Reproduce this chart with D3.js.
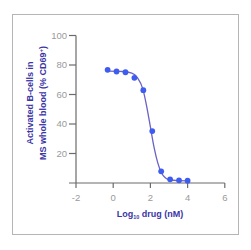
<!DOCTYPE html>
<html>
<head>
<meta charset="utf-8">
<script src="https://cdn.jsdelivr.net/npm/d3@7"></script>
<style>
  body { margin: 0; background: #fff; }
  svg { display: block; font-family: "Liberation Sans", Arial, sans-serif; }
</style>
</head>
<body>
<div id="chart"></div>
<script>
// measured points (log10 nM, % CD69+)
var doseX = [-0.3, 0.18, 0.66, 1.14, 1.62, 2.1, 2.58, 3.06, 3.54, 4.0];
var activeY = [76.7, 75.6, 75.1, 71.3, 62.9, 35.2, 7.9, 2.5, 1.8, 1.6];

// fitted curve
var fitX = [-0.3, 0.5, 1.0, 1.3, 1.6, 1.8, 2.0, 2.2, 2.4, 2.6, 2.8, 3.0, 3.5, 4.0];
var fitY = [75.8, 75.6, 74.5, 71.5, 63.5, 52, 38, 24, 13.5, 6.8, 3.5, 2.2, 1.6, 1.5];

var xTicks = [-2, 0, 2, 4, 6];
var yTicks = [20, 40, 60, 80, 100];

var width = 251, height = 250;

var svg = d3.select("#chart").append("svg")
    .attr("width", width)
    .attr("height", height);

// frame
svg.append("rect")
    .attr("x", 12.5).attr("y", 14.5)
    .attr("width", 226).attr("height", 220)
    .attr("fill", "none")
    .attr("stroke", "#b5b5b5")
    .attr("stroke-width", 1);

var x = d3.scaleLinear().domain([-2, 6]).range([76, 224.8]);
var y = d3.scaleLinear().domain([0, 100]).range([183, 35.5]);

var axisCol = "#6b6b6b", tickTxt = "#9a9a9a", titleCol = "#3b35a6";

// x axis
var gx = svg.append("g").attr("transform", "translate(0," + y(0) + ")");
gx.append("line")
    .attr("x1", 69).attr("x2", x(6))
    .attr("stroke", axisCol).attr("stroke-width", 1.2);
gx.selectAll(".xt").data(xTicks).enter().append("line")
    .attr("x1", function(d) { return x(d); })
    .attr("x2", function(d) { return x(d); })
    .attr("y1", 0).attr("y2", 5)
    .attr("stroke", axisCol).attr("stroke-width", 1.2);
gx.selectAll(".xl").data(xTicks).enter().append("text")
    .attr("x", function(d) { return x(d); })
    .attr("y", 18)
    .attr("text-anchor", "middle")
    .attr("font-size", 9.5)
    .attr("fill", tickTxt)
    .text(function(d) { return d < 0 ? "-" + Math.abs(d) : d; });

// y axis
var gy = svg.append("g").attr("transform", "translate(" + x(-2) + ",0)");
gy.append("line")
    .attr("y1", y(100)).attr("y2", y(0))
    .attr("stroke", axisCol).attr("stroke-width", 1.2);
gy.selectAll(".yt").data(yTicks).enter().append("line")
    .attr("x1", -7).attr("x2", 0)
    .attr("y1", function(d) { return y(d); })
    .attr("y2", function(d) { return y(d); })
    .attr("stroke", axisCol).attr("stroke-width", 1.2);
gy.selectAll(".yl").data(yTicks).enter().append("text")
    .attr("x", -9)
    .attr("y", function(d) { return y(d); })
    .attr("dy", "0.35em")
    .attr("text-anchor", "end")
    .attr("font-size", 9.5)
    .attr("fill", tickTxt)
    .text(function(d) { return d; });

// axis titles
var yt = svg.append("text")
    .attr("transform", "translate(33,103) rotate(-90)")
    .attr("text-anchor", "middle")
    .attr("font-size", 9)
    .attr("font-weight", "bold")
    .attr("fill", titleCol);
yt.append("tspan").attr("x", 0).attr("dy", 0).text("Activated B-cells in");
yt.append("tspan").attr("x", 0).attr("dy", 13).text("MS whole blood (% CD69")
  .append("tspan").attr("baseline-shift", "super").attr("font-size", 6).text("+");
yt.append("tspan").text(")");

var xt = svg.append("text")
    .attr("x", 150).attr("y", 217)
    .attr("text-anchor", "middle")
    .attr("font-size", 9)
    .attr("font-weight", "bold")
    .attr("fill", titleCol);
xt.append("tspan").text("Log");
xt.append("tspan").attr("font-size", 5.5).attr("dy", 2).text("10");
xt.append("tspan").attr("dy", -2).text(" drug (nM)");

// fitted curve
var fit = fitX.map(function(d, i) { return [d, fitY[i]]; });
var line = d3.line()
    .x(function(d) { return x(d[0]); })
    .y(function(d) { return y(d[1]); })
    .curve(d3.curveMonotoneX);
svg.append("path")
    .datum(fit)
    .attr("d", line)
    .attr("fill", "none")
    .attr("stroke", "#6a62c4")
    .attr("stroke-width", 1.3);

// points
svg.selectAll(".pt").data(doseX).enter().append("circle")
    .attr("cx", function(d) { return x(d); })
    .attr("cy", function(d, i) { return y(activeY[i]); })
    .attr("r", 2.9)
    .attr("fill", "#3f5cf0");
</script>
</body>
</html>
